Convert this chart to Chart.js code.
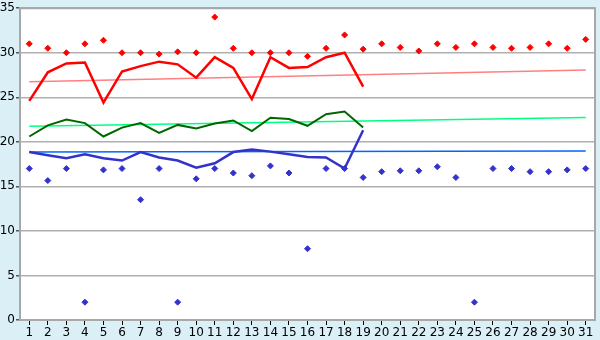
<!DOCTYPE html>
<html>
<head>
<meta charset="utf-8">
<script src="https://cdn.jsdelivr.net/npm/chart.js@4/dist/chart.umd.min.js"></script>
<style>
  html, body { margin: 0; padding: 0; background: #daeff6; }
  #wrap { width: 600px; height: 340px; }
</style>
</head>
<body>
<div id="wrap"><canvas id="chart" width="600" height="340"></canvas></div>
<script>
const days = ['1','2','3','4','5','6','7','8','9','10','11','12','13','14','15','16','17','18','19','20','21','22','23','24','25','26','27','28','29','30','31'];

const redPoints = [31, 30.5, 30, 31, 31.4, 30, 30, 29.85, 30.1, 30, 34, 30.5, 30, 30, 30, 29.6, 30.5, 32, 30.4, 31, 30.6, 30.2, 31, 30.6, 31, 30.6, 30.5, 30.6, 31, 30.5, 31.5];
const redLine = [24.6, 27.8, 28.8, 28.9, 24.4, 27.9, 28.5, 29.0, 28.7, 27.2, 29.5, 28.3, 24.8, 29.5, 28.3, 28.4, 29.5, 30.0, 26.2];
const redTrend = [26.75, null, null, null, null, null, null, null, null, null, null, null, null, null, null, null, null, null, null, null, null, null, null, null, null, null, null, null, null, null, 28.07];

const greenLine = [20.6, 21.85, 22.5, 22.1, 20.6, 21.6, 22.1, 21.0, 21.9, 21.5, 22.05, 22.4, 21.2, 22.7, 22.55, 21.8, 23.1, 23.4, 21.6];
const greenTrend = [21.74, null, null, null, null, null, null, null, null, null, null, null, null, null, null, null, null, null, null, null, null, null, null, null, null, null, null, null, null, null, 22.74];

const blueLine = [18.85, 18.5, 18.15, 18.6, 18.15, 17.9, 18.85, 18.25, 17.9, 17.1, 17.6, 18.85, 19.15, 18.9, 18.6, 18.3, 18.25, 17.0, 21.3];
const blueTrend = [18.85, null, null, null, null, null, null, null, null, null, null, null, null, null, null, null, null, null, null, null, null, null, null, null, null, null, null, null, null, null, 18.96];
const bluePoints = [17, 15.65, 17, 2, 16.85, 17, 13.5, 17, 2, 15.85, 17, 16.5, 16.2, 17.3, 16.5, 8, 17, 17, 16, 16.65, 16.75, 16.75, 17.2, 16, 2, 17, 17, 16.65, 16.65, 16.85, 17];

const yTicks = [0, 5, 10, 15, 20, 25, 30, 35];

const plotFrame = {
    id: 'plotFrame',
    beforeDraw(chart) {
        const a = chart.chartArea;
        const c = chart.ctx;
        c.save();
        c.fillStyle = '#ffffff';
        c.fillRect(a.left, a.top, a.right - a.left, a.bottom - a.top);
        c.restore();
    },
    afterDraw(chart) {
        const a = chart.chartArea;
        const c = chart.ctx;
        c.save();
        c.strokeStyle = '#a8a8a8';
        c.lineWidth = 2;
        c.beginPath();
        c.moveTo(a.left, a.top);
        c.lineTo(a.right, a.top);
        c.lineTo(a.right, a.bottom);
        c.stroke();
        c.restore();
    }
};

function trend(data, color) {
    return { data: data, borderColor: color, borderWidth: 1.5, pointRadius: 0, spanGaps: true, order: 5 };
}
function line(data, color, w) {
    return { data: data, borderColor: color, borderWidth: w, pointRadius: 0, order: 2 };
}
function dots(data, color) {
    return { data: data, showLine: false, pointStyle: 'rectRot', pointRadius: 3, backgroundColor: color, borderColor: color, borderWidth: 1, order: 1 };
}

const ctx = document.getElementById('chart');
new Chart(ctx, {
    type: 'line',
    data: {
        labels: days,
        datasets: [
            trend(redTrend, '#ff8080'),
            trend(greenTrend, '#00ff80'),
            trend(blueTrend, '#0066ff'),
            line(redLine, '#ff0000', 2.5),
            line(greenLine, '#006600', 2),
            line(blueLine, '#3333cc', 2.5),
            dots(redPoints, '#ff0000'),
            dots(bluePoints, '#3333cc')
        ]
    },
    options: {
        responsive: false,
        animation: false,
        layout: { padding: { top: 5, right: 5, left: 0, bottom: 0 } },
        plugins: { legend: { display: false }, tooltip: { enabled: false } },
        elements: { line: { tension: 0 } },
        scales: {
            x: {
                offset: true,
                grid: { offset: false, drawOnChartArea: false, drawTicks: true, tickLength: 5, color: '#000000' },
                border: { color: '#a8a8a8', width: 2 },
                ticks: { color: '#000', font: { family: 'DejaVu Sans', size: 12 }, padding: 1, maxRotation: 0, autoSkip: false },
                afterFit(axis) { axis.height = 20; }
            },
            y: {
                min: 0,
                max: 35,
                afterBuildTicks(axis) { axis.ticks = yTicks.map(v => ({ value: v })); },
                grid: { color: '#b0b0b0', lineWidth: 1.5, tickLength: 4, tickColor: '#555' },
                border: { color: '#a8a8a8', width: 2 },
                ticks: { color: '#000', font: { family: 'DejaVu Sans', size: 12 }, padding: 1 },
                afterFit(axis) { axis.width = 20; }
            }
        }
    },
    plugins: [plotFrame]
});
</script>
</body>
</html>
